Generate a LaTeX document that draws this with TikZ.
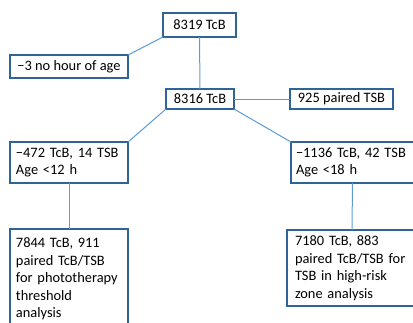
\documentclass[tikz,border=0pt]{standalone}
\usepackage{fontspec}
\setmainfont{Carlito}
\definecolor{boxc}{HTML}{2E6496}
\definecolor{linec}{HTML}{5B9BD5}
\tikzset{
  box/.style={draw=boxc, line width=1.5pt, fill=white, anchor=north west,
    inner xsep=7pt, inner ysep=2pt, outer sep=0pt, align=left,
    font=\fontsize{14.4}{17.5}\selectfont},
  conn/.style={draw=linec, line width=1pt}
}
\begin{document}
\begin{tikzpicture}[x=1pt,y=-1pt]
\useasboundingbox (0,0) rectangle (413,322);
\clip (0,0) rectangle (413,322);
\node[box, minimum width=73pt, minimum height=24pt, align=center] (a) at (163,13) {8319 TcB};
\node[box, minimum width=118pt, minimum height=23pt] (b) at (10,55) {−3 no hour of age};
\node[box, minimum width=68pt, minimum height=20pt, align=center] (c) at (166,89) {8316 TcB};
\node[box, minimum width=103pt, minimum height=20pt, align=center] (d) at (290,89) {925 paired TSB};
\node[box, minimum width=118pt, minimum height=41pt, text width=106pt, inner xsep=6pt] (e) at (10,142) {−472 TcB, 14 TSB\\Age <12 h};
\node[box, minimum width=123pt, minimum height=41pt, text width=113pt, inner xsep=5pt] (f) at (291,142) {−1136 TcB, 42 TSB\\Age <18 h};
\node[box, minimum width=118pt, minimum height=100pt, text width=106pt, inner xsep=6pt] (g) at (10,229) {7844 TcB, 911\\paired TcB/TSB\\for phototherapy\\threshold\\analysis};
\node[box, minimum width=130pt, minimum height=76pt, text width=114pt, inner xsep=8pt] (h) at (287,230) {7180 TcB, 883\\paired TcB/TSB for\\TSB in high-risk\\zone analysis};
\draw[conn] (a.south west) -- (b.north east);
\draw[conn] (a.south) -- (c.north);
\draw[conn] (c.east) -- (d.west);
\draw[conn] (c.south west) -- (e.north east);
\draw[conn] (c.south east) -- (f.north west);
\draw[conn] (e.south) -- (g.north);
\draw[conn] (f.south) -- (h.north);
\end{tikzpicture}
\end{document}
